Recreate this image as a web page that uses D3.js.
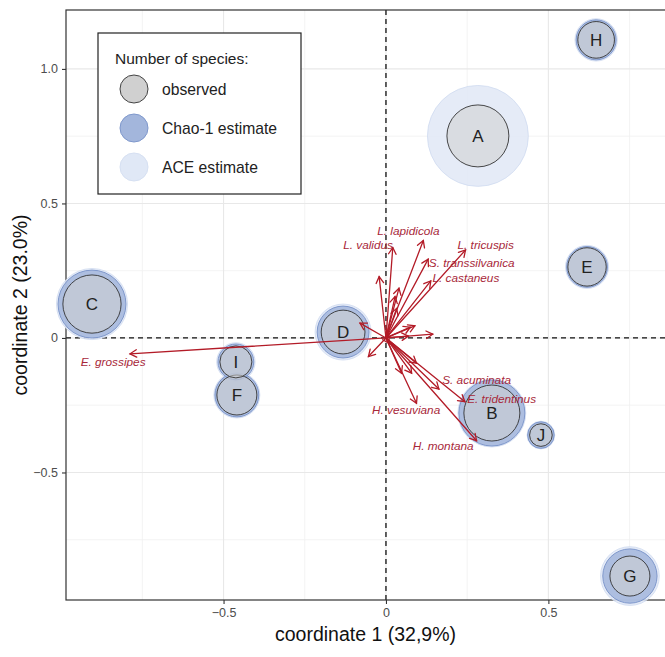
<!DOCTYPE html>
<html><head><meta charset="utf-8">
<script src="https://cdn.jsdelivr.net/npm/d3@7"></script>
<style>body{margin:0;background:#fff}svg{display:block}text{font-family:"Liberation Sans",Arial,sans-serif}</style>
</head><body>
<svg id="c" width="665" height="657"></svg>
<script>
// ---- data ----
const sites = ["A","B","C","D","E","F","G","H","I","J"];
const coord1 = [0.283, 0.326, -0.905, -0.132, 0.619, -0.459, 0.751, 0.647, -0.462, 0.477];
const coord2 = [0.751, -0.279, 0.126, 0.022, 0.264, -0.212, -0.885, 1.108, -0.089, -0.361];
const observed = [60, 49, 53, 30, 23, 25, 25, 21, 16, 8];
const chao1 = [null, 68, 72, 42, 26, 30, 46, 25, 20, 11];
const ace = [159, 72, 79, 49, 29, 33, 54, 28, 23, 12];

const speciesNames = ["E. grossipes","L. validus","L. lapidicola","L. tricuspis","S. transsilvanica","L. castaneus","S. acuminata","E. tridentinus","H. vesuviana","H. montana","","","","","","","","","","","","","",""];
const vecX = [-0.788, 0.021, 0.115, 0.245, 0.130, 0.138, 0.163, 0.243, 0.094, 0.279, -0.021, 0.040, 0.033, -0.080, 0.144, 0.069, 0.089, 0.075, -0.054, 0.048, 0.079, 0.094, 0.010, 0.028];
const vecY = [-0.059, 0.336, 0.362, 0.327, 0.293, 0.212, -0.190, -0.237, -0.243, -0.382, 0.228, 0.185, 0.110, 0.055, 0.014, 0.007, 0.045, 0.040, -0.069, -0.131, -0.131, -0.094, -0.020, 0.154];
const labelX = [-0.840, -0.055, 0.069, 0.307, 0.264, 0.246, 0.279, 0.356, 0.062, 0.176];
const labelY = [-0.089, 0.348, 0.398, 0.348, 0.281, 0.224, -0.154, -0.227, -0.268, -0.401];

const xTicks = [-0.5, 0, 0.5];
const yTicks = [-0.5, 0, 0.5, 1.0];
const xMinor = [-0.75, -0.25, 0.25, 0.75];
const yMinor = [-0.75, -0.25, 0.25, 0.75];
const fmt = v => v === 0 ? "0" : (v < 0 ? "\u22120" + d3.format(".1f")(Math.abs(v)).slice(1) : d3.format(".1f")(v));

const legendTitle = "Number of species:";
const legendLabels = ["observed", "Chao-1 estimate", "ACE estimate"];
const xTitle = "coordinate 1 (32,9%)";
const yTitle = "coordinate 2 (23.0%)";

// ---- scales ----
const L = 66, R = 665, T = 10, B = 600;
const x = d3.scaleLinear().domain([-0.985, 0.859]).range([L, R]);
const y = d3.scaleLinear().domain([-0.974, 1.219]).range([B, T]);
const r = d3.scaleSqrt().domain([0, 100]).range([0, 40]);

const svg = d3.select("#c");
const cObsFill = "#d0d0d0", cChao = "#a3b6dc", cAce = "#e0e8f6";
const red = "#b31b27", redText = "#a8283a";

// grid
const g = svg.append("g");
g.selectAll(".xm").data(xMinor).join("line").attr("x1", d => x(d)).attr("x2", d => x(d)).attr("y1", T).attr("y2", B).attr("stroke", "#f0f0f0").attr("stroke-width", 0.8);
g.selectAll(".ym").data(yMinor).join("line").attr("y1", d => y(d)).attr("y2", d => y(d)).attr("x1", L).attr("x2", R).attr("stroke", "#f0f0f0").attr("stroke-width", 0.8);
g.selectAll(".xM").data(xTicks).join("line").attr("x1", d => x(d)).attr("x2", d => x(d)).attr("y1", T).attr("y2", B).attr("stroke", "#e8e8e8").attr("stroke-width", 1.1);
g.selectAll(".yM").data(yTicks).join("line").attr("y1", d => y(d)).attr("y2", d => y(d)).attr("x1", L).attr("x2", R).attr("stroke", "#e8e8e8").attr("stroke-width", 1.1);

// zero lines
svg.append("line").attr("x1", x(0)).attr("x2", x(0)).attr("y1", T).attr("y2", B).attr("stroke", "#111").attr("stroke-width", 1.3).attr("stroke-dasharray", "5,4");
svg.append("line").attr("y1", y(0)).attr("y2", y(0)).attr("x1", L).attr("x2", R).attr("stroke", "#111").attr("stroke-width", 1.3).attr("stroke-dasharray", "5,4");

// panel border
svg.append("rect").attr("x", L).attr("y", T).attr("width", R - L + 5).attr("height", B - T).attr("fill", "none").attr("stroke", "#333").attr("stroke-width", 1.2);

// axes
const xAxis = d3.axisBottom(x).tickValues(xTicks).tickSize(4).tickPadding(4).tickFormat(fmt);
const yAxis = d3.axisLeft(y).tickValues(yTicks).tickSize(4).tickPadding(4).tickFormat(fmt);
const gx = svg.append("g").attr("transform", `translate(0,${B})`).call(xAxis);
const gy = svg.append("g").attr("transform", `translate(${L},0)`).call(yAxis);
[gx, gy].forEach(a => {
  a.select(".domain").remove();
  a.selectAll(".tick line").attr("stroke", "#333").attr("stroke-width", 1.1);
  a.selectAll(".tick text").attr("fill", "#4d4d4d").style("font-size", "12.5px").style("font-family", "'Liberation Sans',Arial,sans-serif");
});

// points
const pts = sites.map((s, i) => ({s, x: coord1[i], y: coord2[i], o: observed[i], c: chao1[i], a: ace[i]}));
const pg = svg.append("g");
pg.selectAll(".ace").data(pts.filter(d => d.a != null)).join("circle")
  .attr("cx", d => x(d.x)).attr("cy", d => y(d.y)).attr("r", d => r(d.a))
  .attr("fill", cAce).attr("fill-opacity", 0.85).attr("stroke", "#cfdaf0").attr("stroke-width", 0.8);
pg.selectAll(".chao").data(pts.filter(d => d.c != null)).join("circle")
  .attr("cx", d => x(d.x)).attr("cy", d => y(d.y)).attr("r", d => r(d.c))
  .attr("fill", cChao).attr("fill-opacity", 0.85).attr("stroke", "#7f98cc").attr("stroke-width", 1);
pg.selectAll(".obs").data(pts).join("circle")
  .attr("cx", d => x(d.x)).attr("cy", d => y(d.y)).attr("r", d => r(d.o))
  .attr("fill", cObsFill).attr("fill-opacity", 0.55).attr("stroke", "#333").attr("stroke-width", 0.9);
pg.selectAll(".lab").data(pts).join("text")
  .attr("x", d => x(d.x)).attr("y", d => y(d.y)).attr("dy", "0.36em")
  .attr("text-anchor", "middle").style("font-size", "17px").attr("fill", "#222").text(d => d.s);

// arrows
const ag = svg.append("g").attr("stroke", red).attr("stroke-width", 1.3).attr("fill", "none").attr("stroke-linecap", "round");
const x0 = x(0), y0 = y(0);
vecX.forEach((vx, i) => {
  const ex = x(vx), ey = y(vecY[i]);
  ag.append("line").attr("x1", x0).attr("y1", y0).attr("x2", ex).attr("y2", ey);
  const ang = Math.atan2(ey - y0, ex - x0), hl = 7.5, ha = Math.PI / 6;
  const p = d3.path();
  p.moveTo(ex - hl * Math.cos(ang - ha), ey - hl * Math.sin(ang - ha));
  p.lineTo(ex, ey);
  p.lineTo(ex - hl * Math.cos(ang + ha), ey - hl * Math.sin(ang + ha));
  ag.append("path").attr("d", p.toString());
});
svg.append("g").selectAll("text").data(labelX.map((lx, i) => ({lx, ly: labelY[i], t: speciesNames[i]}))).join("text")
  .attr("x", d => x(d.lx)).attr("y", d => y(d.ly)).attr("dy", "0.36em").attr("text-anchor", "middle")
  .attr("fill", redText).style("font-size", "11.8px").style("font-style", "italic").text(d => d.t);

// axis titles
svg.append("text").attr("x", (L + R) / 2).attr("y", 641).attr("text-anchor", "middle").style("font-size", "19.5px").attr("fill", "#111").text(xTitle);
svg.append("text").attr("transform", `translate(27,${(T + B) / 2}) rotate(-90)`).attr("text-anchor", "middle").style("font-size", "19.5px").attr("fill", "#111").text(yTitle);

// legend
const lg = svg.append("g");
lg.append("rect").attr("x", 98).attr("y", 33).attr("width", 203).attr("height", 161).attr("fill", "#fff").attr("stroke", "#222").attr("stroke-width", 1.2);
lg.append("text").attr("x", 115).attr("y", 64).style("font-size", "15.5px").attr("fill", "#222").text(legendTitle);
const keyFill = [cObsFill, cChao, cAce], keyStroke = ["#444", "#7f98cc", "#d6e0f2"];
legendLabels.forEach((t, i) => {
  const cy = 89 + i * 39;
  lg.append("circle").attr("cx", 134).attr("cy", cy).attr("r", 14).attr("fill", keyFill[i]).attr("stroke", keyStroke[i]).attr("stroke-width", 1);
  lg.append("text").attr("x", 162).attr("y", cy).attr("dy", "0.36em").style("font-size", "15.7px").attr("fill", "#222").text(t);
});
</script>
</body></html>
